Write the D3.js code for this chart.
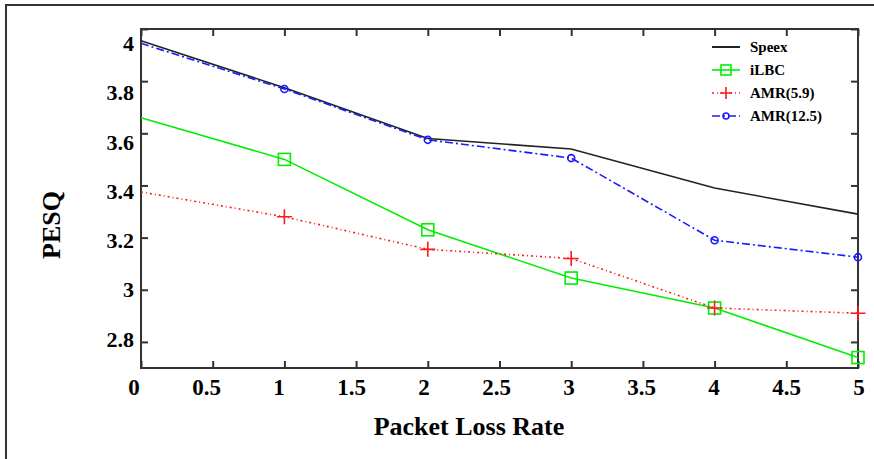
<!DOCTYPE html>
<html>
<head>
<meta charset="utf-8">
<script src="https://cdn.jsdelivr.net/npm/d3@7"></script>
<style>
  body { margin: 0; background: #fff; }
  text { font-family: "Liberation Serif", "Times New Roman", serif; font-weight: bold; fill: #000; }
</style>
</head>
<body>
<div id="chart"></div>
<script>
// packet loss rate (%) on x, PESQ score on y
const rates = [0, 1, 2, 3, 4, 5];
const speex = [3.955, 3.775, 3.58, 3.54, 3.39, 3.29];
const ilbc = [3.66, 3.50, 3.23, 3.045, 2.93, 2.74];
const amr59 = [3.375, 3.28, 3.155, 3.12, 2.93, 2.91];
const amr125 = [3.945, 3.77, 3.575, 3.505, 3.19, 3.125];

const xTicks = [0, 0.5, 1, 1.5, 2, 2.5, 3, 3.5, 4, 4.5, 5];
const yTicks = [2.8, 3, 3.2, 3.4, 3.6, 3.8, 4];
const seriesNames = ['Speex', 'iLBC', 'AMR(5.9)', 'AMR(12.5)'];

const W = 874, H = 459;
const svg = d3.select('#chart').append('svg')
  .attr('width', W).attr('height', H);

// outer figure border (top + left only are visible)
svg.append('path')
  .attr('d', `M6,${H} L6,5 L${W},5`)
  .attr('fill', 'none').attr('stroke', '#333').attr('stroke-width', 2);

const plot = { left: 141, right: 858, top: 29, bottom: 368 };

const x = d3.scaleLinear().domain([0, 5]).range([plot.left, plot.right]);
const y = d3.scaleLinear().domain([2.7, 4.0]).range([plot.bottom, plot.top]);
// tick labels in the figure sit slightly off the tick marks
const xLab = d3.scaleLinear().domain([0, 5]).range([134, 859]);
const yLab = d3.scaleLinear().domain([4, 2.8]).range([43.2, 339]);

// inward ticks on all four sides
const tick = 7;
svg.append('g').attr('transform', `translate(0,${plot.bottom})`)
  .call(d3.axisBottom(x).tickValues(xTicks).tickSize(-tick).tickFormat(''));
svg.append('g').attr('transform', `translate(0,${plot.top})`)
  .call(d3.axisTop(x).tickValues(xTicks).tickSize(-tick).tickFormat(''));
svg.append('g').attr('transform', `translate(${plot.left},0)`)
  .call(d3.axisLeft(y).tickValues(yTicks).tickSize(-tick).tickFormat(''));
svg.append('g').attr('transform', `translate(${plot.right},0)`)
  .call(d3.axisRight(y).tickValues(yTicks).tickSize(-tick).tickFormat(''));
svg.selectAll('.domain').remove();
svg.selectAll('.tick line').attr('stroke', '#333').attr('stroke-width', 2);

svg.append('rect')
  .attr('x', plot.left).attr('y', plot.top)
  .attr('width', plot.right - plot.left).attr('height', plot.bottom - plot.top)
  .attr('fill', 'none').attr('stroke', '#333').attr('stroke-width', 2);

// tick labels
svg.append('g').selectAll('text').data(xTicks).join('text')
  .attr('x', d => xLab(d)).attr('y', 395)
  .attr('text-anchor', 'middle')
  .style('font-size', '23px')
  .text(d => d);
svg.append('g').selectAll('text').data(yTicks).join('text')
  .attr('x', 134).attr('y', d => yLab(d))
  .attr('dy', '0.35em')
  .attr('text-anchor', 'end')
  .style('font-size', '22px')
  .text(d => d);

svg.append('text')
  .attr('x', 469).attr('y', 435)
  .attr('text-anchor', 'middle')
  .style('font-size', '26px')
  .text('Packet Loss Rate');
svg.append('text')
  .attr('transform', 'translate(60,225) rotate(-90)')
  .attr('text-anchor', 'middle')
  .style('font-size', '26px')
  .text('PESQ');

const series = [
  { name: seriesNames[0], values: speex, color: '#222', dash: null, marker: 'none' },
  { name: seriesNames[1], values: ilbc, color: '#00ee00', dash: null, marker: 'square' },
  { name: seriesNames[2], values: amr59, color: '#ff1a1a', dash: '2,3,1,3', marker: 'plus' },
  { name: seriesNames[3], values: amr125, color: '#1a1aff', dash: '8,3,2,3', marker: 'circle' },
];

const line = d3.line().x(d => x(d[0])).y(d => y(d[1]));

function drawMarker(g, type, color, cx, cy, s) {
  if (type === 'square') {
    g.append('rect')
      .attr('x', cx - s / 2).attr('y', cy - s / 2)
      .attr('width', s).attr('height', s)
      .attr('fill', 'none').attr('stroke', color).attr('stroke-width', 1.6);
  } else if (type === 'plus') {
    g.append('path')
      .attr('d', `M${cx - s / 2},${cy} H${cx + s / 2} M${cx},${cy - s / 2} V${cy + s / 2}`)
      .attr('stroke', color).attr('stroke-width', 1.6);
  } else if (type === 'circle') {
    g.append('circle')
      .attr('cx', cx).attr('cy', cy).attr('r', s / 2)
      .attr('fill', 'none').attr('stroke', color).attr('stroke-width', 1.6);
  }
}

const markSize = { square: 12, plus: 15, circle: 7 };

const lines = svg.append('g');
series.forEach(s => {
  const pts = rates.map((r, i) => [r, s.values[i]]);
  lines.append('path')
    .attr('d', line(pts))
    .attr('fill', 'none')
    .attr('stroke', s.color)
    .attr('stroke-width', 1.6)
    .attr('stroke-dasharray', s.dash);
  // no marker is drawn on the y axis itself
  pts.slice(1).forEach(p => {
    drawMarker(lines, s.marker, s.color, x(p[0]), y(p[1]), markSize[s.marker]);
  });
});

// legend
const legend = svg.append('g');
series.forEach((s, i) => {
  const ly = 47 + i * 23;
  legend.append('line')
    .attr('x1', 712).attr('x2', 740).attr('y1', ly).attr('y2', ly)
    .attr('stroke', s.color).attr('stroke-width', s.marker === 'none' ? 2 : 1.6)
    .attr('stroke-dasharray', s.dash);
  drawMarker(legend, s.marker, s.color, 726, ly, s.marker === 'square' ? 10 : s.marker === 'plus' ? 12 : 6);
  legend.append('text')
    .attr('x', 750).attr('y', ly)
    .attr('dy', '0.35em')
    .style('font-size', '15px')
    .text(s.name);
});
</script>
</body>
</html>
